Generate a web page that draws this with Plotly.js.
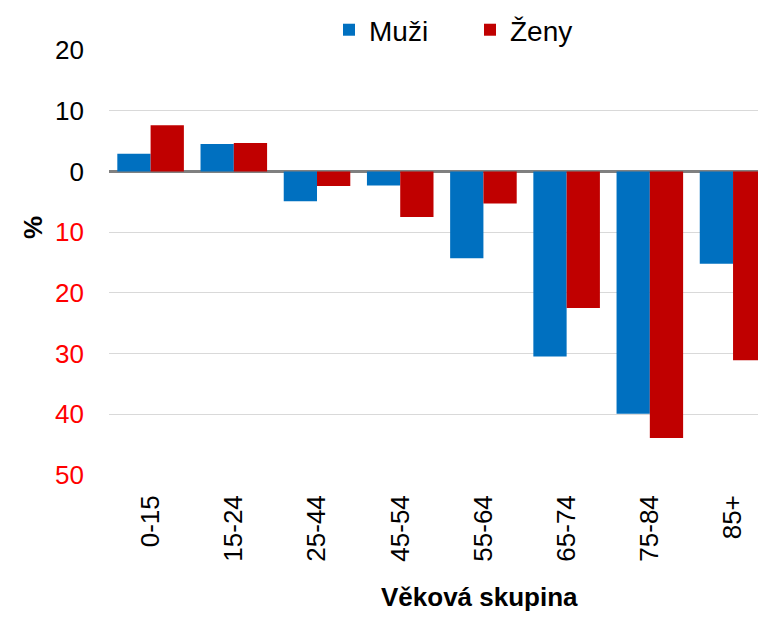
<!DOCTYPE html>
<html><head><meta charset="utf-8">
<script src="https://cdn.plot.ly/plotly-3.0.1.min.js"></script>
<style>body{margin:0;background:#fff}</style>
</head><body><div id="chart" style="width:758px;height:622px"></div>
<script>
const categories = ['0-15','15-24','25-44','45-54','55-64','65-74','75-84','85+'];
const muzi = [2.9, 4.5, -4.9, -2.3, -14.3, -30.5, -39.9, -15.2];
const zeny = [7.6, 4.7, -2.4, -7.5, -5.3, -22.5, -43.9, -31.1];
const yTickVals = [20, 10, 0, -10, -20, -30, -40, -50];
const yTickText = ['20', '10', '0', '10', '20', '30', '40', '50'];
const seriesNames = ['Muži', 'Ženy'];
const xTitle = 'Věková skupina';
const yTitle = '%';

const FONT = 'Liberation Sans, Arial, sans-serif';
const ticktext = yTickText.map((t, i) => yTickVals[i] < 0 ? '<span style="color:#FF0000">' + t + '</span>' : t);

const traces = [
  {type: 'bar', name: seriesNames[0], x: categories, y: muzi, marker: {color: '#0070C0', line: {width: 0}}},
  {type: 'bar', name: seriesNames[1], x: categories, y: zeny, marker: {color: '#C00000', line: {width: 0}}}
];

const layout = {
  width: 758, height: 622,
  margin: {l: 109, r: 0, t: 50, b: 147},
  paper_bgcolor: '#fff', plot_bgcolor: '#fff',
  font: {family: FONT, size: 26, color: '#000'},
  barmode: 'group', bargap: 0.2, bargroupgap: 0,
  showlegend: true,
  legend: {orientation: 'h', x: 0.339, xanchor: 'left', y: 1.047, yanchor: 'middle',
           font: {family: FONT, size: 28, color: '#000'}, entrywidth: 96, entrywidthmode: 'pixels',
           bgcolor: 'rgba(0,0,0,0)', traceorder: 'normal'},
  xaxis: {type: 'category', range: [-0.5, 7.3], tickangle: -90, showgrid: false, zeroline: false,
          showline: false, ticks: '', ticklabelstandoff: 14, tickfont: {size: 26}, fixedrange: true},
  yaxis: {range: [-50, 20], tickvals: yTickVals, ticktext: ticktext, showgrid: true, gridcolor: '#D9D9D9', gridwidth: 1,
          zeroline: true, zerolinecolor: '#808080', zerolinewidth: 2.5, showline: false, ticks: '',
          ticklabelstandoff: 24, tickfont: {size: 26}, fixedrange: true},
  annotations: [
    {text: '<b>' + xTitle + '</b>', xref: 'paper', yref: 'paper', x: (479 - 109) / 649, y: -(597 - 475) / 425,
     xanchor: 'center', yanchor: 'middle', showarrow: false, font: {family: FONT, size: 26, color: '#000'}},
    {text: '<b>' + yTitle + '</b>', xref: 'paper', yref: 'paper', x: -(109 - 33) / 649, y: (475 - 228) / 425,
     xanchor: 'center', yanchor: 'middle', showarrow: false, textangle: -90, font: {family: FONT, size: 26, color: '#000'}}
  ]
};
Plotly.newPlot('chart', traces, layout, {displayModeBar: false, staticPlot: true});
</script></body></html>
